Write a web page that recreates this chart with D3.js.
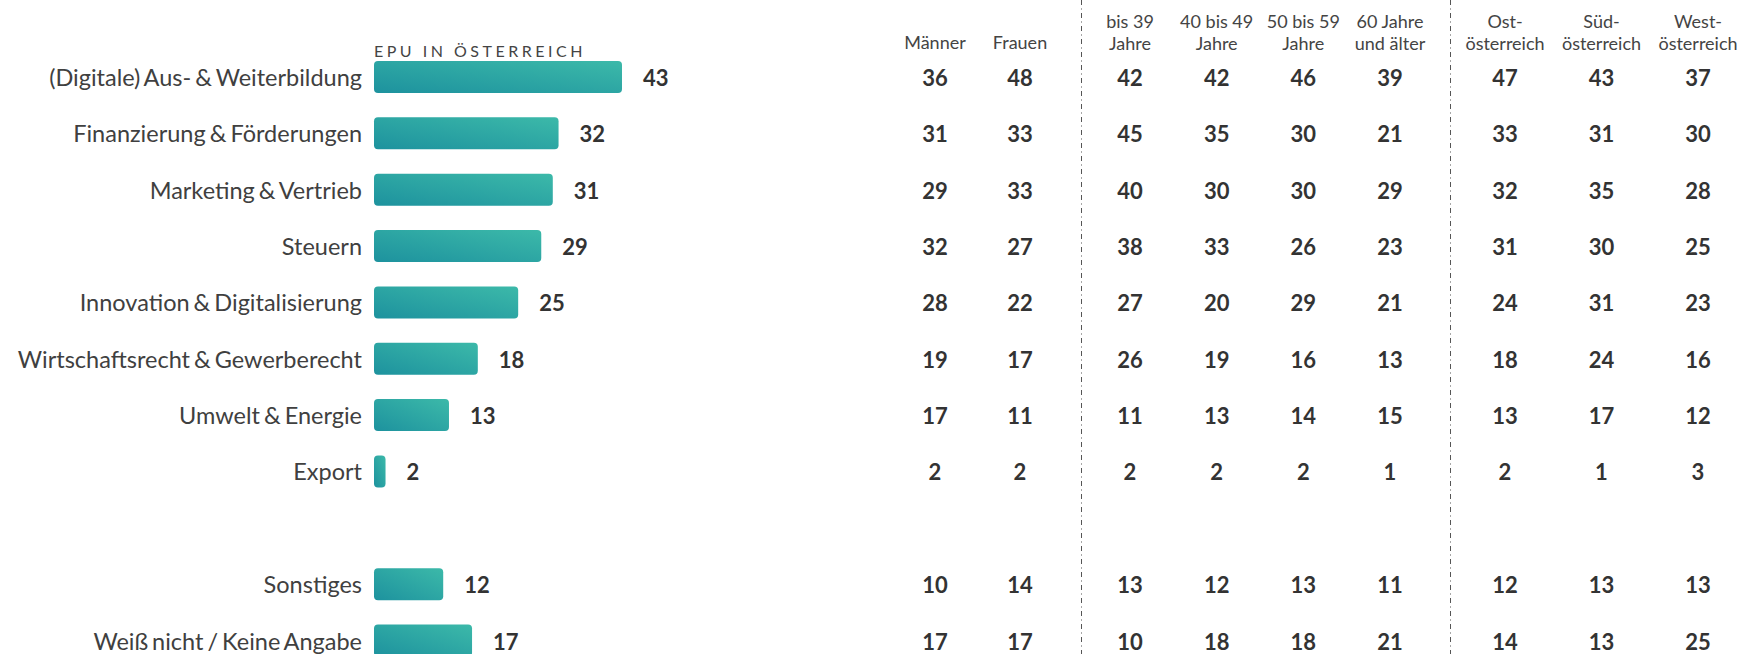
<!DOCTYPE html>
<meta charset="utf-8">
<script src="https://d3js.org/d3.v7.min.js"></script>
<style>
  body { margin: 0; background: #fff; }
  text { font-family: Lato, "Open Sans", sans-serif; }
</style>
<div id="chart"></div>
<script>

// categories and values
const categories = [
  "(Digitale) Aus- & Weiterbildung",
  "Finanzierung & Förderungen",
  "Marketing & Vertrieb",
  "Steuern",
  "Innovation & Digitalisierung",
  "Wirtschaftsrecht & Gewerberecht",
  "Umwelt & Energie",
  "Export",
  "Sonstiges",
  "Weiß nicht / Keine Angabe"
];
const total   = [43, 32, 31, 29, 25, 18, 13, 2, 12, 17];
const maenner = [36, 31, 29, 32, 28, 19, 17, 2, 10, 17];
const frauen  = [48, 33, 33, 27, 22, 17, 11, 2, 14, 17];
const bis39   = [42, 45, 40, 38, 27, 26, 11, 2, 13, 10];
const von40   = [42, 35, 30, 33, 20, 19, 13, 2, 12, 18];
const von50   = [46, 30, 30, 26, 29, 16, 14, 2, 13, 18];
const ab60    = [39, 21, 29, 23, 21, 13, 15, 1, 11, 21];
const ost     = [47, 33, 32, 31, 24, 18, 13, 2, 12, 14];
const sued    = [43, 31, 35, 30, 31, 24, 17, 1, 13, 13];
const west    = [37, 30, 28, 25, 23, 16, 12, 3, 13, 25];

const colHeaders = [
  ["Männer"], ["Frauen"],
  ["bis 39", "Jahre"], ["40 bis 49", "Jahre"], ["50 bis 59", "Jahre"], ["60 Jahre", "und älter"],
  ["Ost-", "österreich"], ["Süd-", "österreich"], ["West-", "österreich"]
];
const colGroups = [0, 0, 1, 1, 1, 1, 2, 2, 2];
const colValues = [maenner, frauen, bis39, von40, von50, ab60, ost, sued, west];
const title = "EPU IN ÖSTERREICH";

const width = 1737, height = 654;

const svg = d3.select("#chart")
  .append("svg")
    .attr("width", width)
    .attr("height", height);

// gradient for bars
const grad = svg.append("defs").append("linearGradient")
  .attr("id", "barGrad")
  .attr("x1", 0).attr("y1", 1).attr("x2", 1).attr("y2", 0);
grad.append("stop").attr("offset", "0%").attr("stop-color", "#1d929e");
grad.append("stop").attr("offset", "100%").attr("stop-color", "#3cb9a9");

// rows: an empty slot between "Export" and "Sonstiges"
const slots = categories.slice(0, 8).concat(["__gap"], categories.slice(8));
const y = d3.scalePoint()
  .domain(slots)
  .range([77, 640.5]);

const barH = 32;
const x0 = 374;
const x = d3.scaleLinear()
  .domain([0, 43])
  .range([0, 248]);

const rows = categories.map((c, i) => ({cat: c, value: total[i], i: i}));

// title
svg.append("text")
  .attr("x", x0)
  .attr("y", 57)
  .attr("fill", "#444")
  .style("font-size", "16px")
  .style("letter-spacing", "3.5px")
  .text(title);

// labels
svg.selectAll(".label")
  .data(rows)
  .join("text")
    .attr("class", "label")
    .attr("x", x0 - 12)
    .attr("y", d => y(d.cat) + 9)
    .attr("text-anchor", "end")
    .attr("fill", "#404040")
    .style("font-size", "23.5px")
    .style("word-spacing", "-2px")
    .text(d => d.cat);

// bars
svg.selectAll(".bar")
  .data(rows)
  .join("rect")
    .attr("class", "bar")
    .attr("x", x0)
    .attr("y", d => y(d.cat) - barH / 2)
    .attr("width", d => x(d.value))
    .attr("height", barH)
    .attr("rx", 4)
    .attr("fill", "url(#barGrad)");

// values next to bars
svg.selectAll(".val")
  .data(rows)
  .join("text")
    .attr("class", "val")
    .attr("x", d => x0 + x(d.value) + 21)
    .attr("y", d => y(d.cat) + 9)
    .attr("fill", "#333")
    .style("font-size", "22px")
    .style("font-weight", "bold")
    .text(d => d.value);

// table columns: one point scale per group
const groupScales = [
  d3.scalePoint().domain([0, 1]).range([935, 1020]),
  d3.scalePoint().domain([2, 3, 4, 5]).range([1130, 1390]),
  d3.scalePoint().domain([6, 7, 8]).range([1505, 1698])
];
const colX = j => groupScales[colGroups[j]](j);

// dividers
[1081.5, 1450.5].forEach(xx => {
  svg.append("line")
    .attr("x1", xx).attr("x2", xx)
    .attr("y1", 0).attr("y2", height)
    .attr("stroke", "#555")
    .attr("stroke-width", 1)
    .attr("stroke-dasharray", "5,3.5,1,3.5");
});

// column headers
colHeaders.forEach((lines, j) => {
  const t = svg.append("text")
    .attr("x", colX(j))
    .attr("text-anchor", "middle")
    .attr("fill", "#444")
    .style("font-size", "18px");
  if (lines.length === 1) {
    t.attr("y", 49).text(lines[0]);
  } else {
    lines.forEach((l, k) => {
      t.append("tspan")
        .attr("x", colX(j))
        .attr("y", k === 0 ? 28 : 50)
        .text(l);
    });
  }
});

// table values
colValues.forEach((vals, j) => {
  svg.selectAll(".c" + j)
    .data(rows)
    .join("text")
      .attr("class", "c" + j)
      .attr("x", colX(j))
      .attr("y", d => y(d.cat) + 9)
      .attr("text-anchor", "middle")
      .attr("fill", "#333")
      .style("font-size", "22px")
      .style("font-weight", "bold")
      .text(d => vals[d.i]);
});

</script>
